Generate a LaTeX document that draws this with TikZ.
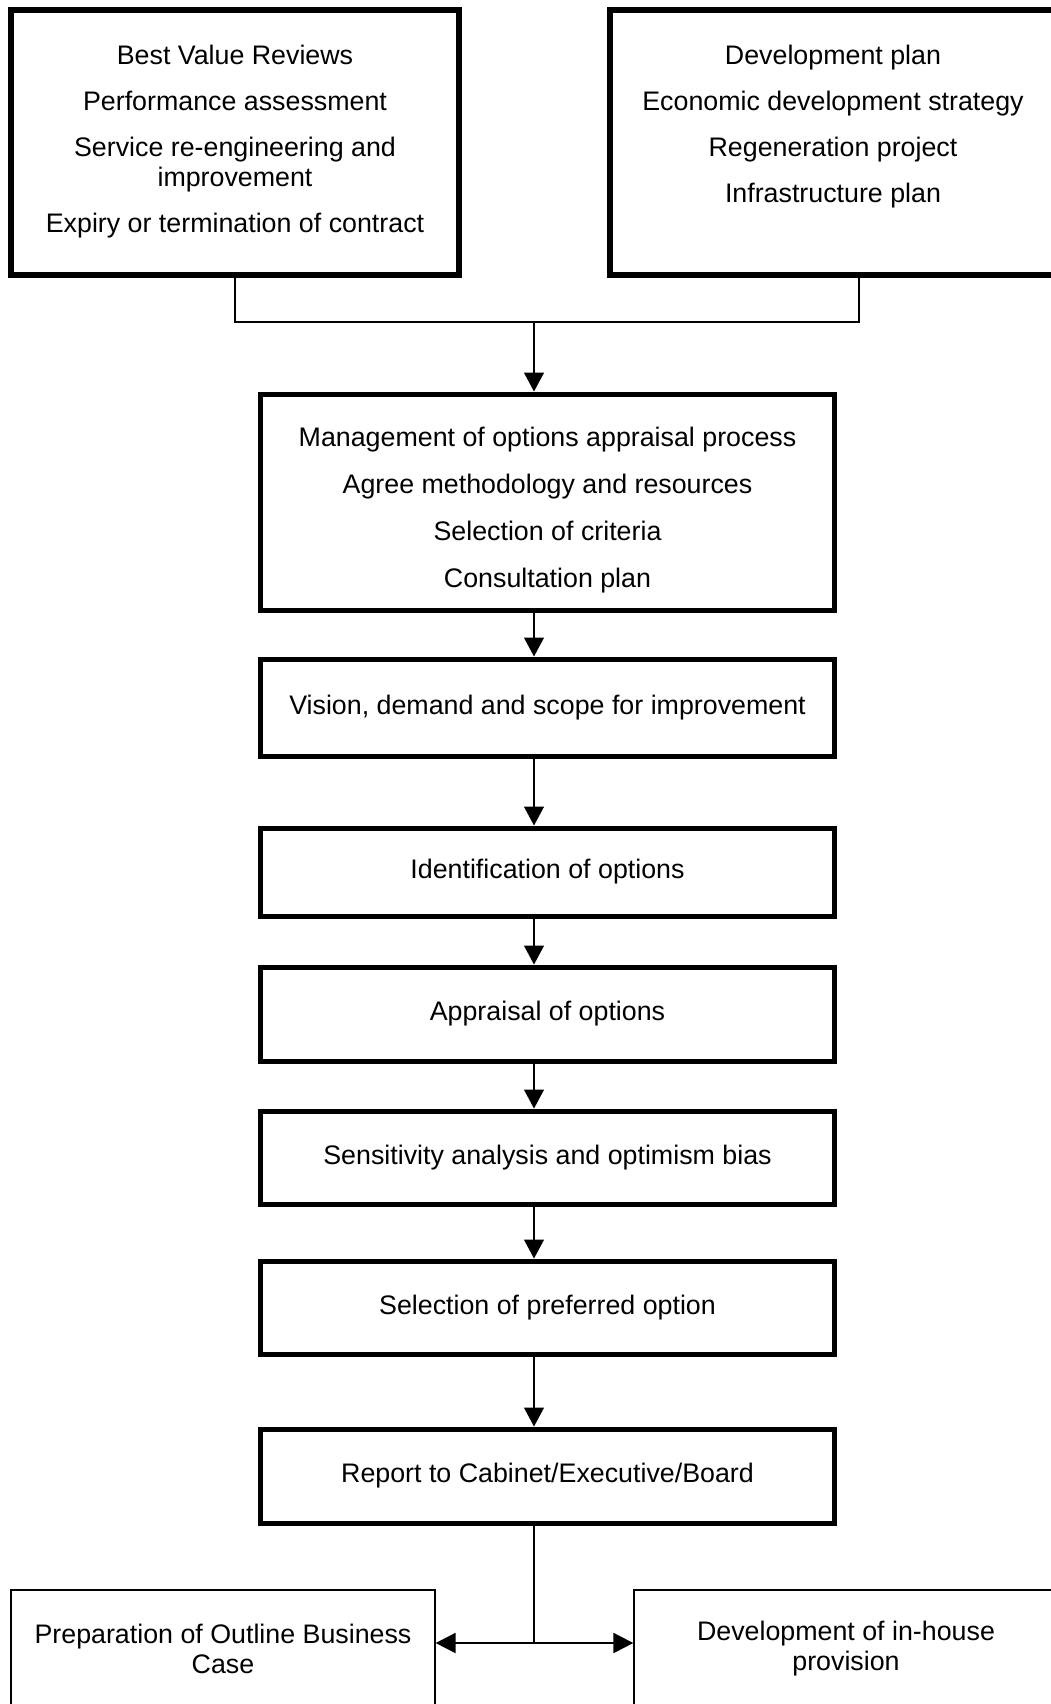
\documentclass[tikz,border=0pt]{standalone}
\usepackage{fontspec}
\setmainfont{Liberation Sans}
\usetikzlibrary{arrows.meta}

\begin{document}
\begin{tikzpicture}[x=1pt, y=-1pt,
  font=\fontsize{26.8}{30}\selectfont,
  sourcebox/.style={draw, line width=5.5pt, rectangle, inner sep=0pt, minimum height=265pt},
  stepbox/.style={draw, line width=5pt, rectangle, inner sep=0pt, minimum width=574pt, align=center},
  endbox/.style={draw, line width=1.3pt, rectangle, inner sep=0pt, minimum width=424pt, minimum height=118pt, align=center},
  boxtext/.style={anchor=north, align=center, inner sep=0pt},
  link/.style={line width=1.3pt},
  flow/.style={line width=1.3pt, -{Triangle[length=19pt,width=20pt]}},
  twoway/.style={line width=2pt, {Triangle[length=20pt,width=20pt]}-{Triangle[length=20pt,width=20pt]}}]
\useasboundingbox (0,0) rectangle (1051,1704);
%sources
\node[sourcebox, minimum width=448pt] (reviews) at (235,142.5) {};
\node[sourcebox, minimum width=446pt] (plans) at (833,142.5) {};
\node[boxtext] (reviewtext) at (235,45)
  {Best Value Reviews\\[16pt] Performance assessment\\[16pt] Service re-engineering and\\ improvement\\[16pt] Expiry or termination of contract};
\node[boxtext] (plantext) at (833,45)
  {Development plan\\[16pt] Economic development strategy\\[16pt] Regeneration project\\[16pt] Infrastructure plan};
%steps
\node[stepbox, minimum height=216.5pt] (manage) at (547.5,502.25) {};
\node[boxtext] (managetext) at (547.5,427)
  {Management of options appraisal process\\[17pt] Agree methodology and resources\\[17pt] Selection of criteria\\[17pt] Consultation plan};
\node[stepbox, minimum height=97pt] (vision) at (547.5,707.5) {Vision, demand and scope for improvement};
\node[stepbox, minimum height=88pt] (identify) at (547.5,872) {Identification of options};
\node[stepbox, minimum height=94pt] (appraise) at (547.5,1014) {Appraisal of options};
\node[stepbox, minimum height=93pt] (sensitivity) at (547.5,1157.5) {Sensitivity analysis and optimism bias};
\node[stepbox, minimum height=93pt] (prefer) at (547.5,1307.5) {Selection of preferred option};
\node[stepbox, minimum height=94pt] (report) at (547.5,1476) {Report to Cabinet/Executive/Board};
%outcomes
\node[endbox] (outline) at (223,1649) {Preparation of Outline Business\\Case};
\node[endbox] (inhouse) at (846,1649) {Development of in-house\\provision};
%connectors
\coordinate (join) at (534,322);
\coordinate (split) at (534,1643);
\draw[link] (reviews.south) |- (join) -| ([xshift=26pt]plans.south);
\draw[flow] (join) -- (join |- manage.north);
\foreach \a/\b in {manage/vision, vision/identify, identify/appraise, appraise/sensitivity, sensitivity/prefer, prefer/report}
  \draw[flow] (\a.south -| join) -- (\b.north -| join);
\draw[link] (report.south -| split) -- (split);
\draw[twoway] (split -| outline.east) -- (split -| inhouse.west);
\end{tikzpicture}
\end{document}
